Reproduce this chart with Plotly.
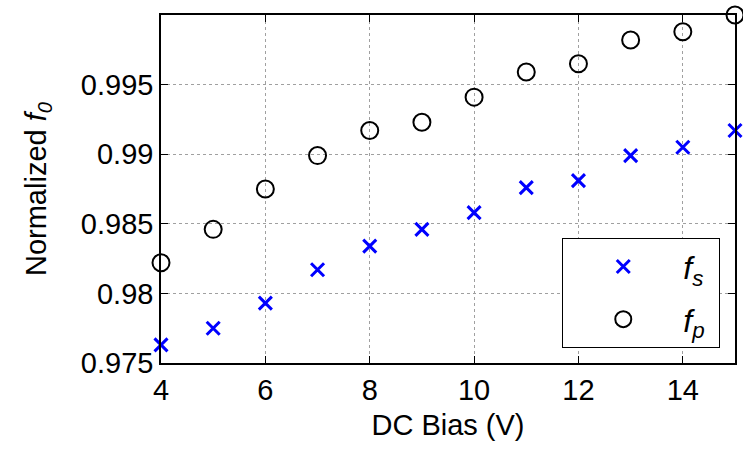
import plotly.graph_objects as go

# DC bias sweep (V)
bias_v = [4, 5, 6, 7, 8, 9, 10, 11, 12, 13, 14, 15]

# Normalized series-resonance frequency f_s
f_s = [0.9763, 0.9775, 0.9793, 0.9817, 0.9834, 0.9846, 0.9858,
       0.9876, 0.9881, 0.9899, 0.9905, 0.9917]

# Normalized parallel-resonance frequency f_p
f_p = [0.9822, 0.9846, 0.9875, 0.9899, 0.9917, 0.9923, 0.9941,
       0.9959, 0.9965, 0.9982, 0.9988, 1.0000]

x_ticks = [4, 6, 8, 10, 12, 14]
y_ticks = [0.975, 0.98, 0.985, 0.99, 0.995, 1.0]
y_tick_text = ["0.975", "0.98", "0.985", "0.99", "0.995", "1"]

FONT = "Liberation Sans, Arial, Helvetica, sans-serif"

fig = go.Figure()
fig.add_trace(go.Scatter(
    x=bias_v, y=f_s, mode="markers",
    name="<i>f</i><sub><i>s</i></sub>&nbsp;",
    legendgroup="s",
    marker=dict(symbol="x-thin-open", size=13, color="#0000ff",
                line=dict(color="#0000ff", width=3)),
    cliponaxis=False,
))
fig.add_trace(go.Scatter(
    x=bias_v, y=f_p, mode="markers",
    name="<i>f</i><sub><i>p</i></sub>&nbsp;",
    legendgroup="p",
    marker=dict(symbol="circle-open", size=17, color="black",
                line=dict(color="black", width=2)),
    cliponaxis=False,
))

axis_common = dict(
    showline=True, linecolor="black", linewidth=1.5, mirror="ticks",
    ticks="inside", ticklen=7, tickwidth=1, tickcolor="black",
    showgrid=True, gridcolor="#a0a0a0", griddash="dot", gridwidth=1,
    zeroline=False,
    tickfont=dict(family=FONT, size=29, color="black"),
)

fig.update_layout(
    width=743, height=450,
    margin=dict(l=161, r=6, t=15, b=87),
    paper_bgcolor="white", plot_bgcolor="white",
    font=dict(family=FONT, color="black"),
    xaxis=dict(
        range=[4, 15], tickvals=x_ticks,
        title=dict(text="DC Bias (V)", font=dict(family=FONT, size=29), standoff=10),
        **axis_common,
    ),
    yaxis=dict(
        range=[0.975, 1.0], tickvals=y_ticks, ticktext=y_tick_text,
        title=dict(text="Normalized <i>f</i><sub><i>0</i></sub>",
                   font=dict(family=FONT, size=29), standoff=26),
        **axis_common,
    ),
    legend=dict(
        x=0.974, xanchor="right", y=0.043, yanchor="bottom",
        bgcolor="white", bordercolor="black", borderwidth=1.2,
        font=dict(family=FONT, size=32, color="black"),
        itemwidth=110, tracegroupgap=8,
    ),
)

fig.write_html("out.html")
